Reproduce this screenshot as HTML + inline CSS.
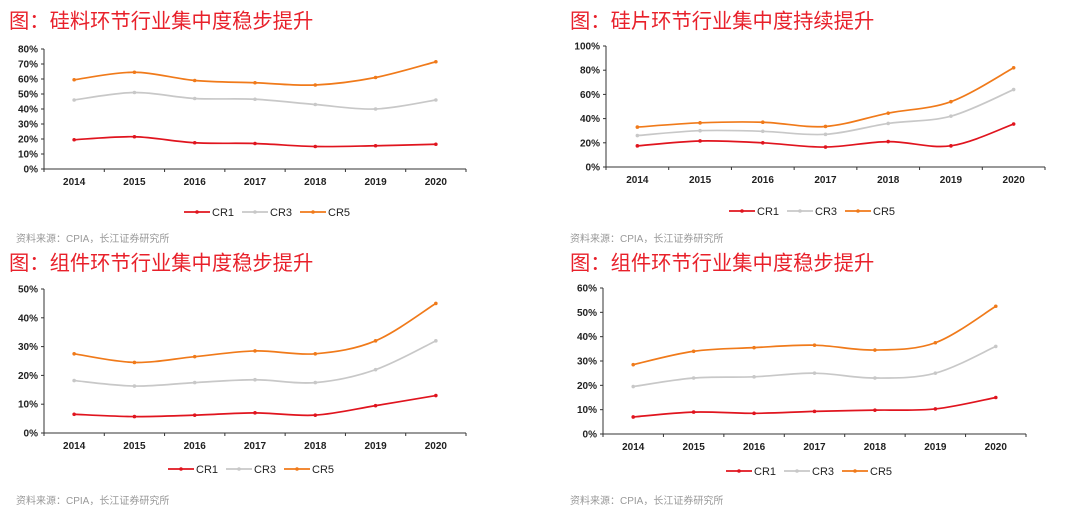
<!DOCTYPE html>
<html><head><meta charset="utf-8">
<style>
html,body{margin:0;padding:0;background:#fff;}
body{width:1066px;height:510px;position:relative;overflow:hidden;font-family:"Liberation Sans","Noto Sans CJK SC",sans-serif;}
.title{position:absolute;font-size:20.3px;color:#e8202a;font-family:"Liberation Sans","Noto Sans CJK SC",sans-serif;white-space:nowrap;}
.src{position:absolute;font-size:10px;color:#999;white-space:nowrap;}
svg{position:absolute;left:0;top:0;}
</style></head><body>
<div class="title" style="left:9px;top:4px;">图：硅料环节行业集中度稳步提升</div>
<div class="title" style="left:570px;top:4px;">图：硅片环节行业集中度持续提升</div>
<div class="title" style="left:9px;top:246px;">图：组件环节行业集中度稳步提升</div>
<div class="title" style="left:570px;top:246px;">图：组件环节行业集中度稳步提升</div>
<div class="src" style="left:16px;top:230px;">资料来源：CPIA，长江证券研究所</div>
<div class="src" style="left:570px;top:230px;">资料来源：CPIA，长江证券研究所</div>
<div class="src" style="left:16px;top:492px;">资料来源：CPIA，长江证券研究所</div>
<div class="src" style="left:570px;top:492px;">资料来源：CPIA，长江证券研究所</div>
<svg id="svg" width="1066" height="510"></svg>
<script>
const categories = ["2014","2015","2016","2017","2018","2019","2020"];
const seriesNames = ["CR1","CR3","CR5"];
const c1CR1 = [19.5,21.5,17.5,17,15,15.5,16.5];
const c1CR3 = [46,51,47,46.5,43,40,46];
const c1CR5 = [59.5,64.5,59,57.5,56,61,71.5];
const c1Ticks = [0,10,20,30,40,50,60,70,80];
const c2CR1 = [17.5,21.5,20,16.5,21,17.5,35.5];
const c2CR3 = [26,30,29.5,27,36,42,64];
const c2CR5 = [33,36.5,37,33.5,44.5,54,82];
const c2Ticks = [0,20,40,60,80,100];
const c3CR1 = [6.5,5.7,6.2,7,6.2,9.5,13];
const c3CR3 = [18.2,16.3,17.5,18.5,17.5,22,32];
const c3CR5 = [27.5,24.5,26.5,28.5,27.5,32,45];
const c3Ticks = [0,10,20,30,40,50];
const c4CR1 = [7,9,8.5,9.3,9.8,10.3,15];
const c4CR3 = [19.5,23,23.5,25,23,25,36];
const c4CR5 = [28.5,34,35.5,36.5,34.5,37.5,52.5];
const c4Ticks = [0,10,20,30,40,50,60];
const colors = ["#e0141e","#c8c8c8","#f07a1a"];
const NS="http://www.w3.org/2000/svg";
const svg=document.getElementById('svg');
function mk(tag,attrs,parent){const e=document.createElementNS(NS,tag);for(const k in attrs)e.setAttribute(k,attrs[k]);(parent||svg).appendChild(e);return e;}
function drawChart(id,L,R,T,B,ticks,series,legY,legX){
  const g=mk('g',{});
  
  
  const max=ticks[ticks.length-1];
  const y=v=>B-(v/max)*(B-T);
  const step=(R-L)/categories.length;
  const x=i=>L+(i+0.5)*step;
  const ya=mk('line',{x1:L,y1:T,x2:L,y2:B,stroke:'#333','stroke-width':1},g);
  
  
  const xa=mk('line',{x1:L,y1:B,x2:R,y2:B,stroke:'#333','stroke-width':1},g);
  
  
  ticks.forEach(t=>{
    mk('line',{x1:L-3,y1:y(t),x2:L,y2:y(t),stroke:'#333'},g);
    const tx=mk('text',{x:L-6,y:y(t)+3.5,'text-anchor':'end','font-size':'10','font-weight':'bold','fill':'#222','font-family':'Liberation Sans, sans-serif'},g);
    tx.textContent=t+'%';
    
    
  });
  for(let i=0;i<=categories.length;i++) mk('line',{x1:L+i*step,y1:B,x2:L+i*step,y2:B+3,stroke:'#333'},g);
  categories.forEach((c,i)=>{
    const tx=mk('text',{x:x(i),y:B+16,'text-anchor':'middle','font-size':'10','font-weight':'bold','fill':'#222','font-family':'Liberation Sans, sans-serif'},g);
    tx.textContent=c;
    
    
  });
  series.forEach((vals,s)=>{
    const pts=vals.map((v,i)=>[x(i),y(v)]);
    let d='M'+pts[0][0]+','+pts[0][1];
    for(let i=0;i<pts.length-1;i++){
      const p0=pts[Math.max(i-1,0)],p1=pts[i],p2=pts[i+1],p3=pts[Math.min(i+2,pts.length-1)];
      const c1=[p1[0]+(p2[0]-p0[0])/6,p1[1]+(p2[1]-p0[1])/6];
      const c2=[p2[0]-(p3[0]-p1[0])/6,p2[1]-(p3[1]-p1[1])/6];
      d+=' C'+c1[0]+','+c1[1]+' '+c2[0]+','+c2[1]+' '+p2[0]+','+p2[1];
    }
    const p=mk('path',{d:d,fill:'none',stroke:colors[s],'stroke-width':1.7},g);
    
    
    pts.forEach(pt=>{
      const m=mk('circle',{cx:pt[0],cy:pt[1],r:1.8,fill:colors[s]},g);
      
      
    });
    const lx=legX+s*58;
    const lg=mk('g',{},g);
    
    
    mk('line',{x1:lx,y1:legY,x2:lx+26,y2:legY,stroke:colors[s],'stroke-width':1.7},lg);
    mk('circle',{cx:lx+13,cy:legY,r:1.8,fill:colors[s]},lg);
    const lt=mk('text',{x:lx+28,y:legY+4,'font-size':'11','fill':'#222','font-family':'Liberation Sans, sans-serif'},lg);
    lt.textContent=seriesNames[s];
  });
}
drawChart('chart1',44,466,49,169,c1Ticks,[c1CR1,c1CR3,c1CR5],212,184);
drawChart('chart2',606,1045,46,167,c2Ticks,[c2CR1,c2CR3,c2CR5],211,729);
drawChart('chart3',44,466,289,433,c3Ticks,[c3CR1,c3CR3,c3CR5],469,168);
drawChart('chart4',603,1026,288,434,c4Ticks,[c4CR1,c4CR3,c4CR5],471,726);
</script>
</body></html>
